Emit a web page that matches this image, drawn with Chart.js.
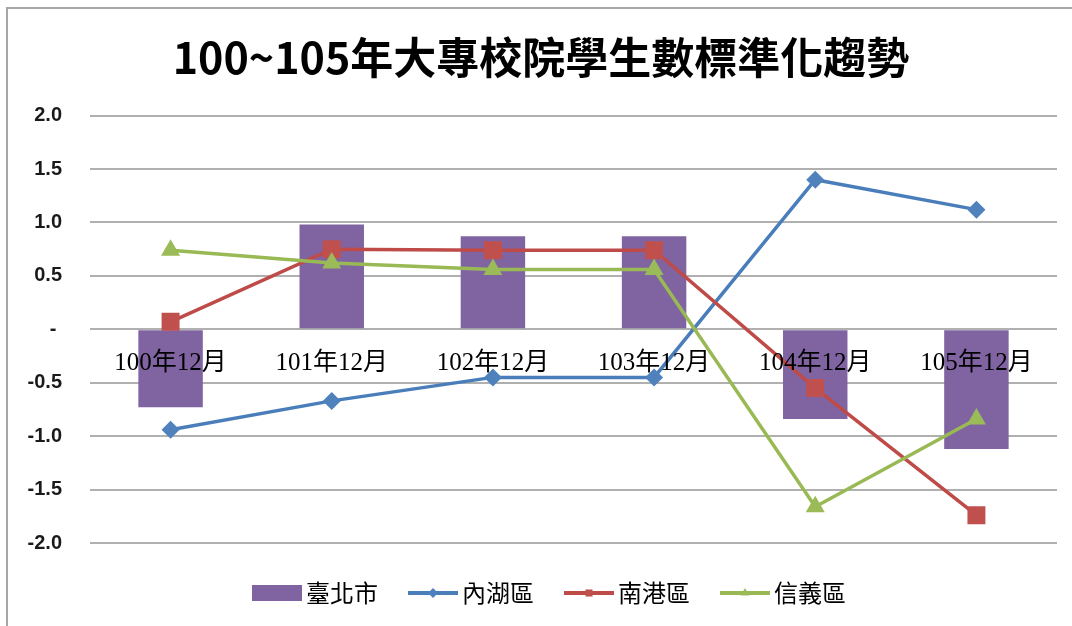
<!DOCTYPE html>
<html>
<head>
<meta charset="utf-8">
<script src="https://cdn.jsdelivr.net/npm/chart.js@4.4.0/dist/chart.umd.min.js"></script>
<style>
  html, body { margin: 0; padding: 0; background: #fff; }
  #wrap { position: relative; width: 1072px; height: 626px; }
  #frame {
    position: absolute; left: 6px; top: 7px; right: 0; bottom: 0;
    border-left: 2px solid #a6a6a6; border-top: 2px solid #a6a6a6;
    pointer-events: none;
  }
</style>
</head>
<body>
<div id="wrap">
  <canvas id="trendChart"></canvas>
  <div id="frame"></div>
</div>
<script>
const categories = ["100年12月", "101年12月", "102年12月", "103年12月", "104年12月", "105年12月"];
const taipei = [-0.73, 0.98, 0.87, 0.87, -0.84, -1.12];   // 臺北市 (bars)
const neihu = [-0.94, -0.67, -0.45, -0.45, 1.40, 1.12];    // 內湖區
const nangang = [0.07, 0.75, 0.74, 0.74, -0.55, -1.74];    // 南港區
const xinyi = [0.74, 0.62, 0.56, 0.56, -1.66, -0.84];      // 信義區
const yTickValues = [-2, -1.5, -1, -0.5, 0, 0.5, 1, 1.5, 2];
const yTickLabels = ["-2.0", "-1.5", "-1.0", "-0.5", "- ", "0.5", "1.0", "1.5", "2.0"];

const titleText = "100~105年大專校院學生數標準化趨勢";
const cjk = '"Noto Sans CJK TC", "Noto Sans CJK SC", sans-serif';

// small canvases used as legend symbols (line + marker, or a box)
function legendIcon(color, markerColor, style, radius) {
  const c = document.createElement("canvas");
  c.width = 50;
  c.height = 20;
  const g = c.getContext("2d");
  if (style === "bar") {
    g.fillStyle = color;
    g.fillRect(0, 2, 50, 16);
  } else {
    g.strokeStyle = color;
    g.lineWidth = 4;
    g.beginPath();
    g.moveTo(0, 10);
    g.lineTo(50, 10);
    g.stroke();
    g.fillStyle = markerColor;
    Chart.helpers.drawPoint(g, { pointStyle: style, radius: radius, borderWidth: 0, rotation: 0 }, 25, 10);
  }
  return c;
}

const seriesStyle = [
  { label: "臺北市", color: "#8064a2", marker: "#8064a2", style: "bar", r: 0 },
  { label: "內湖區", color: "#4a7ebb", marker: "#4f81bd", style: "rectRot", r: 9 },
  { label: "南港區", color: "#be4b48", marker: "#c0504d", style: "rect", r: 12.7 },
  { label: "信義區", color: "#98b954", marker: "#9bbb59", style: "triangle", r: 11 },
];

function lineDataset(idx, values) {
  const s = seriesStyle[idx];
  return {
    type: "line",
    label: s.label,
    data: values,
    borderColor: s.color,
    borderWidth: 3.5,
    backgroundColor: s.marker,
    pointBackgroundColor: s.marker,
    pointBorderWidth: 0,
    pointStyle: s.style,
    pointRadius: s.r,
    tension: 0,
    order: 4 - idx,
  };
}

// the legend in the original sits a little right of the centre
const legendNudge = {
  id: "legendNudge",
  afterLayout(chart) {
    chart.legend.left += 12;
    chart.legend.right += 12;
  },
};

const ctx = document.getElementById("trendChart").getContext("2d");
new Chart(ctx, {
  data: {
    labels: categories,
    datasets: [
      {
        type: "bar",
        label: seriesStyle[0].label,
        data: taipei,
        backgroundColor: seriesStyle[0].color,
        barPercentage: 0.4,
        categoryPercentage: 1,
        order: 10,
      },
      lineDataset(1, neihu),
      lineDataset(2, nangang),
      lineDataset(3, xinyi),
    ],
  },
  plugins: [legendNudge],
  options: {
    responsive: true,
    maintainAspectRatio: false,
    animation: false,
    events: [],
    layout: { padding: { left: 25, right: 15, top: 0, bottom: 11 } },
    scales: {
      x: {
        position: { y: 0 },
        grid: { display: false, drawTicks: false },
        border: { display: false },
        ticks: {
          z: 1, // category labels sit on top of the bars
          padding: 19,
          color: "#000",
          maxRotation: 0,
          font: { family: '"Liberation Serif", ' + cjk, size: 25 },
        },
      },
      y: {
        min: -2,
        max: 2,
        afterFit: (scale) => { scale.width = 65; },
        afterBuildTicks: (scale) => {
          scale.ticks = yTickValues.map((v) => ({ value: v }));
        },
        grid: { color: "#b0b0b0", lineWidth: 2, drawTicks: false },
        border: { display: false },
        ticks: {
          padding: 28,
          color: "#1a1a1a",
          font: { family: '"Liberation Sans", Arial, sans-serif', size: 20, weight: "bold" },
          callback: (value) => {
            const i = yTickValues.findIndex((v) => Math.abs(v - value) < 1e-6);
            return i >= 0 ? yTickLabels[i] : "";
          },
        },
      },
    },
    plugins: {
      title: {
        display: true,
        text: titleText,
        color: "#000",
        font: { family: cjk, size: 43, weight: "bold" },
        padding: { top: 32, bottom: 32 },
      },
      tooltip: { enabled: false },
      legend: {
        position: "bottom",
        labels: {
          usePointStyle: true,
          pointStyleWidth: 34,
          padding: 38,
          color: "#000",
          font: { family: cjk, size: 24 },
          generateLabels: () =>
            seriesStyle.map((s, i) => ({
              text: s.label,
              fillStyle: s.color,
              strokeStyle: s.color,
              lineWidth: 0,
              hidden: false,
              datasetIndex: i,
              pointStyle: legendIcon(s.color, s.marker, s.style, 5),
            })),
        },
      },
    },
  },
});
</script>
</body>
</html>
